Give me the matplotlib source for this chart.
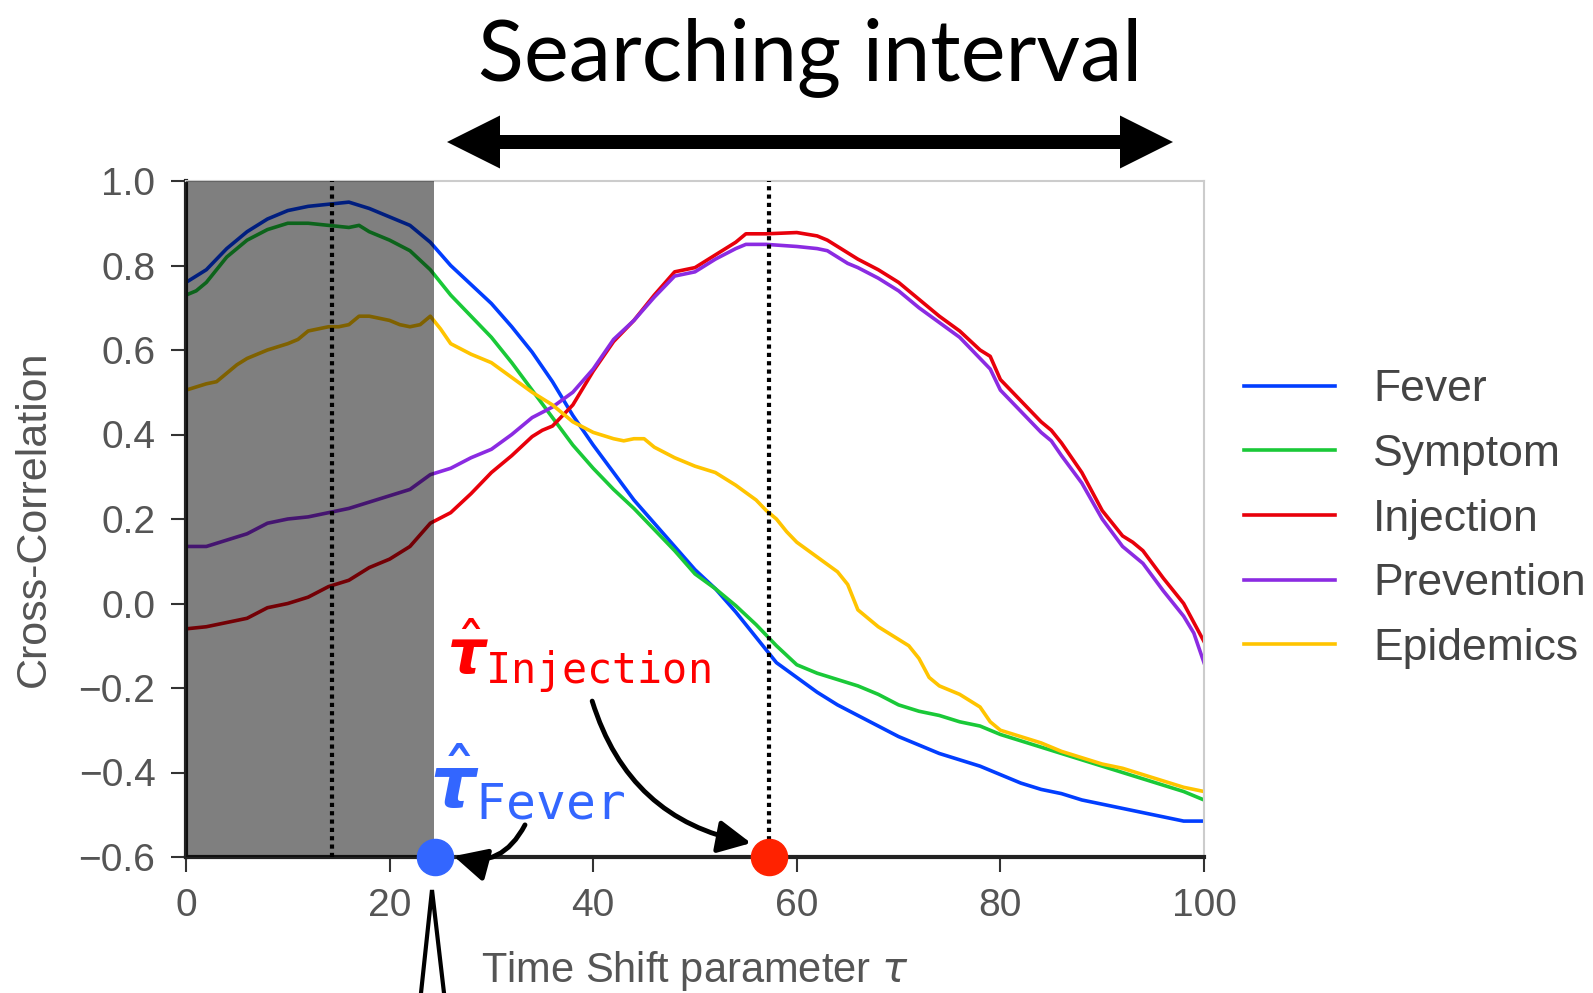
import matplotlib.pyplot as plt
from matplotlib.patches import FancyArrow
from matplotlib.lines import Line2D

plt.rcParams['font.family'] = ['Liberation Sans', 'DejaVu Sans']

# cross-correlation of each query term against the epidemic curve, by time shift
fever_tau = [0, 2, 4, 6, 8, 10, 12, 14, 16, 18, 20, 22, 24, 26, 28, 30, 32, 34, 36, 38, 40,
             42, 44, 46, 48, 50, 52, 54, 56, 58, 60, 62, 64, 66, 68, 70, 72, 74, 76, 78, 80,
             82, 84, 86, 88, 90, 92, 94, 96, 98, 100]
fever = [0.76, 0.79, 0.84, 0.88, 0.91, 0.93, 0.94, 0.945, 0.95, 0.935, 0.915, 0.895, 0.855,
         0.80, 0.755, 0.71, 0.655, 0.595, 0.525, 0.445, 0.375, 0.31, 0.245, 0.19, 0.135, 0.08,
         0.035, -0.02, -0.08, -0.14, -0.175, -0.21, -0.24, -0.265, -0.29, -0.315, -0.335,
         -0.355, -0.37, -0.385, -0.405, -0.425, -0.44, -0.45, -0.465, -0.475, -0.485, -0.495,
         -0.505, -0.515, -0.515]

symptom_tau = [0, 1, 2, 4, 6, 8, 10, 12, 14, 16, 17, 18, 20, 22, 24, 26, 28, 30, 32, 34, 36,
               38, 40, 42, 44, 46, 48, 50, 52, 54, 56, 58, 60, 62, 64, 66, 68, 70, 72, 74, 76,
               78, 80, 82, 84, 86, 88, 90, 92, 94, 96, 98, 100]
symptom = [0.73, 0.74, 0.76, 0.82, 0.86, 0.885, 0.9, 0.9, 0.895, 0.89, 0.895, 0.88, 0.86,
           0.835, 0.79, 0.73, 0.68, 0.63, 0.57, 0.505, 0.44, 0.375, 0.32, 0.27, 0.225, 0.175,
           0.125, 0.07, 0.035, -0.005, -0.05, -0.1, -0.145, -0.165, -0.18, -0.195, -0.215,
           -0.24, -0.255, -0.265, -0.28, -0.29, -0.31, -0.325, -0.34, -0.355, -0.37, -0.385,
           -0.40, -0.415, -0.43, -0.445, -0.465]

injection_tau = [0, 2, 4, 6, 8, 10, 12, 14, 16, 18, 20, 22, 24, 26, 28, 30, 32, 34, 35, 36,
                 38, 40, 42, 44, 46, 48, 50, 52, 54, 55, 57, 60, 62, 63, 65, 66, 68, 70, 72,
                 74, 76, 78, 79, 80, 82, 84, 85, 86, 88, 90, 92, 93, 94, 96, 98, 100]
injection = [-0.06, -0.055, -0.045, -0.035, -0.01, 0.0, 0.015, 0.04, 0.055, 0.085, 0.105,
             0.135, 0.19, 0.215, 0.26, 0.31, 0.35, 0.395, 0.41, 0.42, 0.47, 0.55, 0.62, 0.67,
             0.73, 0.785, 0.795, 0.825, 0.855, 0.875, 0.875, 0.878, 0.87, 0.86, 0.83, 0.815,
             0.79, 0.76, 0.72, 0.68, 0.645, 0.6, 0.585, 0.53, 0.48, 0.43, 0.41, 0.38, 0.31,
             0.22, 0.16, 0.145, 0.125, 0.06, 0.0, -0.09]

prevention_tau = [0, 2, 4, 6, 8, 10, 12, 14, 16, 18, 20, 22, 24, 26, 28, 30, 32, 34, 36, 38,
                  40, 42, 44, 46, 48, 50, 52, 54, 55, 57, 60, 62, 63, 65, 66, 68, 70, 72, 74,
                  76, 78, 79, 80, 82, 84, 85, 86, 88, 90, 92, 93, 94, 96, 98, 99, 100]
prevention = [0.135, 0.135, 0.15, 0.165, 0.19, 0.2, 0.205, 0.215, 0.225, 0.24, 0.255, 0.27,
              0.305, 0.32, 0.345, 0.365, 0.4, 0.44, 0.465, 0.5, 0.555, 0.625, 0.67, 0.725,
              0.775, 0.785, 0.815, 0.84, 0.85, 0.85, 0.845, 0.84, 0.835, 0.805, 0.795, 0.77,
              0.74, 0.7, 0.665, 0.63, 0.58, 0.555, 0.505, 0.455, 0.405, 0.385, 0.35, 0.285,
              0.2, 0.135, 0.115, 0.095, 0.03, -0.03, -0.07, -0.14]

epidemics_tau = [0, 2, 3, 4, 5, 6, 8, 10, 11, 12, 14, 15, 16, 17, 18, 20, 21, 22, 23, 24, 25,
                 26, 28, 30, 32, 34, 36, 38, 40, 42, 43, 44, 45, 46, 48, 50, 52, 54, 56, 57,
                 58, 59, 60, 62, 64, 65, 66, 67, 68, 70, 71, 72, 73, 74, 76, 77, 78, 79, 80,
                 82, 84, 85, 86, 88, 90, 92, 94, 96, 98, 100]
epidemics = [0.505, 0.52, 0.525, 0.545, 0.565, 0.58, 0.6, 0.615, 0.625, 0.645, 0.655, 0.655,
             0.66, 0.68, 0.68, 0.67, 0.66, 0.655, 0.66, 0.68, 0.65, 0.615, 0.59, 0.57, 0.535,
             0.5, 0.47, 0.43, 0.405, 0.39, 0.385, 0.39, 0.39, 0.37, 0.345, 0.325, 0.31, 0.28,
             0.245, 0.22, 0.2, 0.17, 0.145, 0.11, 0.075, 0.045, -0.015, -0.035, -0.055,
             -0.085, -0.1, -0.13, -0.175, -0.195, -0.215, -0.23, -0.245, -0.28, -0.3, -0.315,
             -0.33, -0.34, -0.35, -0.365, -0.38, -0.39, -0.405, -0.42, -0.435, -0.445]

series = [
    ('Fever', fever_tau, fever, '#023eff'),
    ('Symptom', symptom_tau, symptom, '#1ac938'),
    ('Injection', injection_tau, injection, '#e8000b'),
    ('Prevention', prevention_tau, prevention, '#8b2be2'),
    ('Epidemics', epidemics_tau, epidemics, '#ffc400'),
]

excluded_end = 24.4      # start of the searching interval
tau_fever = 24.5
tau_injection = 57.3
tau_reference = 14.3

fig = plt.figure(figsize=(15.93, 9.93), dpi=100)
ax = fig.add_axes([186 / 1593, 1 - 857 / 993, 1018 / 1593, 676 / 993])

for name, t, v, c in series:
    ax.plot(t, v, color=c, lw=2.6, label=name, zorder=2)

# shaded lags outside the search window
ax.axvspan(0, excluded_end, color='black', alpha=0.5, lw=0, zorder=3)

ax.axvline(tau_reference, color='black', ls=(0, (1, 1)), lw=3, zorder=4)
ax.axvline(tau_injection, color='black', ls=(0, (1, 1)), lw=3, zorder=4)

ax.plot([tau_fever], [-0.6], 'o', color='#3366ff', ms=26, clip_on=False, zorder=6)
ax.plot([tau_injection], [-0.6], 'o', color='#ff2200', ms=26, clip_on=False, zorder=6)

ax.text(25.6, -0.167, r'$\hat{\boldsymbol{\tau}}_{\mathtt{Injection}}$', color='#ff0000',
        fontsize=43, ha='left', va='baseline', zorder=7)
ax.text(24.0, -0.484, r'$\hat{\boldsymbol{\tau}}_{\mathtt{Fever}}$', color='#3366ff',
        fontsize=51, ha='left', va='baseline', zorder=7)

ax.annotate('', xy=(55.5, -0.567), xytext=(39.9, -0.231),
            arrowprops=dict(arrowstyle='-|>,head_length=0.8,head_width=0.4', lw=3.5,
                            color='black', mutation_scale=25,
                            connectionstyle='arc3,rad=0.3', shrinkA=0, shrinkB=0),
            annotation_clip=False, zorder=7)
ax.annotate('', xy=(26.3, -0.598), xytext=(33.3, -0.524),
            arrowprops=dict(arrowstyle='-|>,head_length=0.8,head_width=0.4', lw=3.5,
                            color='black', mutation_scale=25,
                            connectionstyle='arc3,rad=-0.4', shrinkA=0, shrinkB=0),
            annotation_clip=False, zorder=7)

ax.set_xlim(0, 100)
ax.set_ylim(-0.6, 1.0)
ax.set_xticks([0, 20, 40, 60, 80, 100])
ax.set_yticks([-0.6, -0.4, -0.2, 0.0, 0.2, 0.4, 0.6, 0.8, 1.0])
ax.tick_params(direction='out', length=11, width=1.5, color='#333333', labelsize=28,
               labelcolor='#555555', pad=11)
for side in ['left', 'bottom']:
    ax.spines[side].set_color('#222222')
    ax.spines[side].set_linewidth(3)
for side in ['top', 'right']:
    ax.spines[side].set_color('#cccccc')
    ax.spines[side].set_linewidth(1.5)

ax.set_xlabel(r'Time Shift parameter $\tau$', fontsize=30, color='#555555', labelpad=18)
ax.set_ylabel('Cross-Correlation', fontsize=31, color='#555555', labelpad=18)

ax.legend(loc='center left', bbox_to_anchor=(1244 / 1593, 1 - 519 / 993),
          bbox_transform=fig.transFigure, frameon=False, fontsize=32, handlelength=2.05,
          handletextpad=0.85, labelspacing=0.53, borderpad=0, borderaxespad=0,
          labelcolor='#444444')

# heading and double arrow spanning the searching interval
fig.text(810 / 1593, 1 - 80 / 993, 'Searching interval', ha='center', va='baseline',
         fontsize=61, family='Lato', color='black')
for dx in (-3.63, 3.63):
    fig.add_artist(FancyArrow(8.10, 8.51, dx, 0, width=0.14, head_width=0.53,
                              head_length=0.53, length_includes_head=True,
                              color='black', lw=0, transform=fig.dpi_scale_trans))

# pointer below the Fever estimate
fig.add_artist(Line2D([4.21, 4.32, 4.44], [0.0, 1.03, 0.0], color='black', lw=3,
                      transform=fig.dpi_scale_trans, solid_joinstyle='miter'))

fig.savefig('out.png', dpi=100)
